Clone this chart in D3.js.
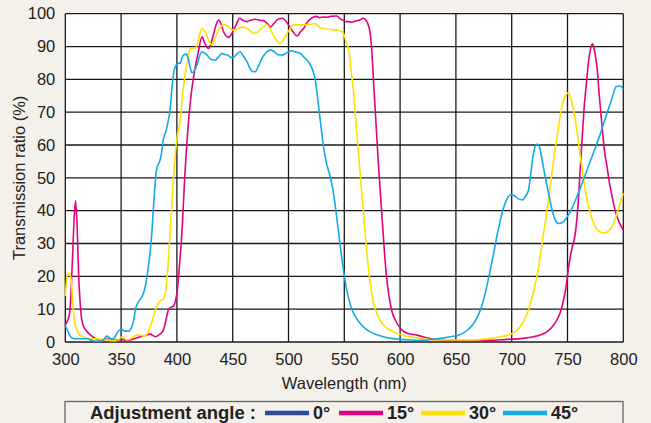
<!DOCTYPE html>
<html><head><meta charset="utf-8">
<script src="https://cdn.jsdelivr.net/npm/d3@7"></script>
<style>
html,body{margin:0;padding:0;background:#f4f0ea;}
svg{display:block;}
text{font-family:"Liberation Sans",Arial,sans-serif;fill:#222;}
</style></head><body>
<script>
// ---------- data ----------
const xTicks = [300,350,400,450,500,550,600,650,700,750,800];
const yTicks = [0,10,20,30,40,50,60,70,80,90,100];
const legendTitle = "Adjustment angle :";
const angleLabels = ["0°","15°","30°","45°"];
const angleColors = ["#2e4c9c","#e4007f","#ffe000","#12aae8"];

const series0 = []; // 0° not drawn in the plot
const series15 = [[300,5.2],[302,6.5],[304,9],[306,22],[308,38],[309.2,43],[310.5,36],[312,20],[314,9],[316,5],[320,3],[325,1.5],[330,0.6],[335,0.8],[340,0.9],[345,0.5],[350.8,0.8],[355,0.4],[358,0.6],[362,1.0],[367,1.6],[372,2.0],[376,2.4],[380.6,1.6],[384,2.2],[388,3.7],[391,8],[392.6,10],[395,10.6],[397,11],[399,13],[400.5,16],[402,22],[404.6,34],[407,50],[410.5,67.6],[413,76],[416.5,83.8],[419,88],[422.5,93],[425,91],[428.4,89.4],[431,91.5],[433,94],[435.5,97],[437.4,98.1],[439.5,97],[441.8,94.5],[446.3,92.8],[448.5,93.5],[450.8,95],[453.5,97],[456.2,98.6],[459,98],[462.8,97.6],[466,98],[470.2,98.3],[474,98],[477.7,97.9],[481,97],[483.7,96],[487,97],[490,98.2],[494.2,98.6],[497,98],[500,96.6],[504,94.5],[507.6,93.2],[510.6,94.4],[513.5,95.5],[517,97.5],[520,98.5],[522.5,99],[525,99.2],[528,98.8],[531,99],[534.4,98.9],[538,99.2],[543.4,99.3],[546,98.5],[549,98],[551,97.6],[553.8,97.6],[557,97.4],[560,97.8],[564.3,98.1],[566.5,98.6],[568.8,98.3],[571,97],[573.2,94],[574.8,88],[576.3,78.8],[578.5,66],[580.7,53.4],[583,42],[585.2,31.1],[587.5,21],[589.7,14.8],[592.5,9.5],[595.7,6.7],[600,4.3],[606.2,2.7],[615,2.1],[625,1.2],[640,0.5],[660,0.4],[680,0.5],[695.7,0.8],[710,1.1],[719.6,1.6],[726,2.2],[731.5,3.1],[736,4.5],[740.5,6.7],[744,9.5],[746.5,12.8],[749,17.5],[751,22.9],[754,28.5],[757,33.1],[759.5,42],[761.5,53.4],[763.3,63],[765,71.7],[767,79],[769,85.9],[770.8,89.5],[772.5,90.8],[774.3,88.5],[776.4,83.9],[778.5,75],[781,65.6],[783,58.5],[785.4,53.4],[787.6,48.5],[790,44.3],[792,41],[794.3,38.2],[797,36],[800,34.1]];
const series30 = [[300,14],[301,18],[302,20.5],[303.5,21],[305,19.5],[306.5,13],[308,7],[309.5,4.5],[312,2.5],[316,1.5],[320,1.1],[325,1.0],[330,0.9],[335,0.8],[340,0.5],[345,0.4],[348,0.8],[350.8,1.6],[353,1.2],[355.3,0.6],[358,0.9],[361,1.6],[364,2.1],[367,2.1],[370,1.8],[373,2.3],[376,4.5],[379,7.7],[382,11],[385,12.5],[388,13.3],[390,15.5],[391,18.9],[392.5,25],[394,34],[396,45],[398,55],[400,62],[403,67.6],[405,75],[407.5,81.8],[410,86.5],[412,89.4],[414,89.5],[416.5,89.4],[418.5,91],[420.5,94],[422.5,95.5],[424.5,95],[427,93],[429,91.5],[431.4,90.4],[434,92.5],[437.4,95],[440,96.2],[443.4,96.6],[447,95.8],[450.8,95],[455,95.5],[459.8,96],[464,95.3],[468.7,94],[472,94.3],[476,95.6],[480.7,96.6],[484,95],[488.2,92.5],[490.5,91.3],[492.6,91],[495,91.8],[497,93],[500.5,95],[504.6,96.6],[510.6,96.6],[516.6,96.6],[520,96.8],[523,97],[525.5,96.6],[528,95.8],[531.4,95.5],[537,95.2],[543.4,95],[547,94.7],[549.3,94],[551.5,91.5],[554,88.9],[556,83],[558.4,75.8],[560.5,66.5],[562.8,57.5],[565,48],[567.3,39.2],[569.5,30],[571.8,21.9],[574,16],[576.3,11.8],[580,8],[583.8,5.7],[590,3.8],[597.2,2.7],[605,1.8],[612,1.4],[625,0.8],[640,0.6],[666,0.6],[681,1.1],[690,1.6],[700.3,2.6],[704,3.4],[707.7,4.7],[711,6.6],[715,9.7],[718.5,14],[722.5,19.9],[725.5,26],[728.5,33],[731,38.5],[733,43.3],[735.5,50],[737.5,55.4],[740,61],[742,65.6],[744,70],[746.5,73.7],[749,75.5],[751,75.9],[753,74],[755.4,70.7],[758.5,64],[761.5,56.4],[764.5,49.5],[767.5,43.3],[771,38.5],[775,35.1],[778,33.8],[781,33.3],[784,33.3],[787,33.9],[790.5,35.5],[794.3,39.2],[797,42],[800,45.3]];
const series45 = [[300,5],[302,3.5],[304,2],[306,1.2],[308,1],[312,1],[316,1],[320,1],[323,0.6],[326,0.3],[330,0.2],[333,0.4],[335,0.9],[337.3,1.8],[339.5,1.3],[341.8,0.8],[344,1.2],[346,2.5],[348,3.5],[350.8,3.9],[353,3.3],[356.8,3.3],[359.7,4.7],[361.5,7],[362.8,10],[364.2,11.3],[366,12.5],[368.7,13.8],[371,16],[373.2,19.9],[374.8,24],[376.2,28],[377.7,34],[378.8,40],[380,46],[381.5,52],[383,54],[384.5,55],[386,57],[388,62],[390,64],[392,67],[394,71],[396,79],[398,83.4],[400,84.5],[401.5,84.9],[403,85],[404.5,86.5],[406,87.4],[408.4,87.7],[410,86.5],[412,83.5],[413.5,82],[415,82.3],[416.5,83.3],[418,84.4],[420,86.8],[422.5,88.4],[425,88],[427,87.4],[430,86.2],[432,86],[434.4,85.9],[437,86.7],[440.4,87.9],[443,87.6],[446,87.3],[448.5,86.7],[450.8,86.7],[453,87.5],[456.8,88.4],[459,87.3],[462.8,85.4],[466,83],[468,82.4],[470.2,82.3],[473,84],[476.2,86.4],[479,87.8],[483.7,88.9],[487,88.5],[490,87.6],[494.2,87.4],[497,87.8],[500,88.4],[503,88.7],[506,88.4],[510.6,87.9],[513.5,86.9],[516.5,85.9],[519.5,84.5],[522,82.5],[524,79.8],[525.5,76],[527,71.7],[529,66],[531.4,59.5],[534,54.5],[537.4,50.4],[540,46],[542,41.2],[545,33],[548,25],[551,18],[553.9,13.3],[556.5,10.2],[560,7.7],[565,5.3],[570.3,3.7],[577,2.5],[585.2,1.6],[592,1.1],[600,0.8],[610,0.6],[620,0.5],[630,0.8],[636,1.1],[645,1.6],[654,2.3],[660,3.5],[666,5.7],[670.5,8.5],[674.8,12.8],[679,19],[683.8,27],[687.5,33.5],[691.3,39.2],[695,43],[698.7,44.8],[702,44.6],[706,43.6],[710,43.3],[712.5,44.5],[715.1,46.3],[717,51],[719,56.5],[721,59.5],[723.2,60.3],[725.6,58.5],[728,54],[730.5,49.5],[733,45.3],[736,40.5],[739,37.2],[742,36.1],[745,36.3],[748,37.3],[751,38.7],[755,41.5],[758.5,44.3],[763,48.3],[767.5,52.4],[772,56.5],[776.4,60.5],[781,65],[785.4,69.7],[789.5,73.8],[793.7,77.8],[797.4,78],[800,77]];

// ---------- chart ----------
const W = 651, H = 423;
const m = {left:65.3, right:651-623.3, top:13.7, bottom:423-342};
const svg = d3.select("body").append("svg").attr("width",W).attr("height",H);
svg.append("rect").attr("width",W).attr("height",H).attr("fill","#f4f0ea");

const x = d3.scaleLinear().domain([300,800]).range([m.left, W-m.right]);
const y = d3.scaleLinear().domain([0,100]).range([H-m.bottom, m.top]);

svg.append("rect").attr("x",x(300)).attr("y",y(100))
  .attr("width",x(800)-x(300)).attr("height",y(0)-y(100)).attr("fill","#fff");

const grid = svg.append("g");
grid.selectAll("line.v").data(xTicks).join("line")
  .attr("x1",d=>x(d)).attr("x2",d=>x(d)).attr("y1",y(0)).attr("y2",y(100))
  .attr("stroke","#1a1a1a").attr("stroke-width",1.3);
grid.selectAll("line.h").data(yTicks).join("line")
  .attr("y1",d=>y(d)).attr("y2",d=>y(d)).attr("x1",x(300)).attr("x2",x(800))
  .attr("stroke","#1a1a1a").attr("stroke-width",1.3);

const line = d3.line().x(d=>x(d[0])).y(d=>y(d[1])).curve(d3.curveMonotoneX);
const plotted = [[series15,angleColors[1]],[series30,angleColors[2]],[series45,angleColors[3]]];
plotted.forEach(([s,c])=>{
  svg.append("path").datum(s).attr("d",line).attr("fill","none")
    .attr("stroke",c).attr("stroke-width",1.6).attr("stroke-linejoin","round");
});

// axes
const xAxis = d3.axisBottom(x).tickValues(xTicks).tickSize(0).tickPadding(11);
const gx = svg.append("g").attr("transform",`translate(0,${y(0)})`).call(xAxis);
gx.select(".domain").remove();
gx.selectAll("text").attr("font-size",16.5).attr("font-family","Liberation Sans, Arial, sans-serif").attr("fill","#222");

const yAxis = d3.axisLeft(y).tickValues(yTicks).tickSize(0).tickPadding(10);
const gy = svg.append("g").attr("transform",`translate(${x(300)},0)`).call(yAxis);
gy.select(".domain").remove();
gy.selectAll("text").attr("font-size",16.5).attr("font-family","Liberation Sans, Arial, sans-serif").attr("fill","#222");

svg.append("text").attr("x",(x(300)+x(800))/2).attr("y",389).attr("text-anchor","middle")
  .attr("font-size",16.5).text("Wavelength (nm)");
svg.append("text").attr("transform",`translate(25,${(y(0)+y(100))/2}) rotate(-90)`)
  .attr("text-anchor","middle").attr("font-size",16.5).text("Transmission ratio (%)");

// legend
const lg = svg.append("g");
lg.append("rect").attr("x",65).attr("y",401.5).attr("width",558).attr("height",30)
  .attr("fill","none").attr("stroke","#666").attr("stroke-width",1.3);
lg.append("text").attr("x",90).attr("y",419).attr("font-size",18).attr("font-weight","bold")
  .attr("font-family","Liberation Sans Narrow, Liberation Sans, Arial, sans-serif")
  .attr("textLength",166).attr("lengthAdjust","spacingAndGlyphs").text(legendTitle);
const lx = [265,339,421,503];
angleLabels.forEach((lab,i)=>{
  lg.append("line").attr("x1",lx[i]).attr("x2",lx[i]+44).attr("y1",413).attr("y2",413)
    .attr("stroke",angleColors[i]).attr("stroke-width",4.5);
  lg.append("text").attr("x",lx[i]+48).attr("y",419).attr("font-size",18).attr("font-weight","bold")
    .attr("font-family","Liberation Sans Narrow, Liberation Sans, Arial, sans-serif").text(lab);
});
</script>
</body></html>
